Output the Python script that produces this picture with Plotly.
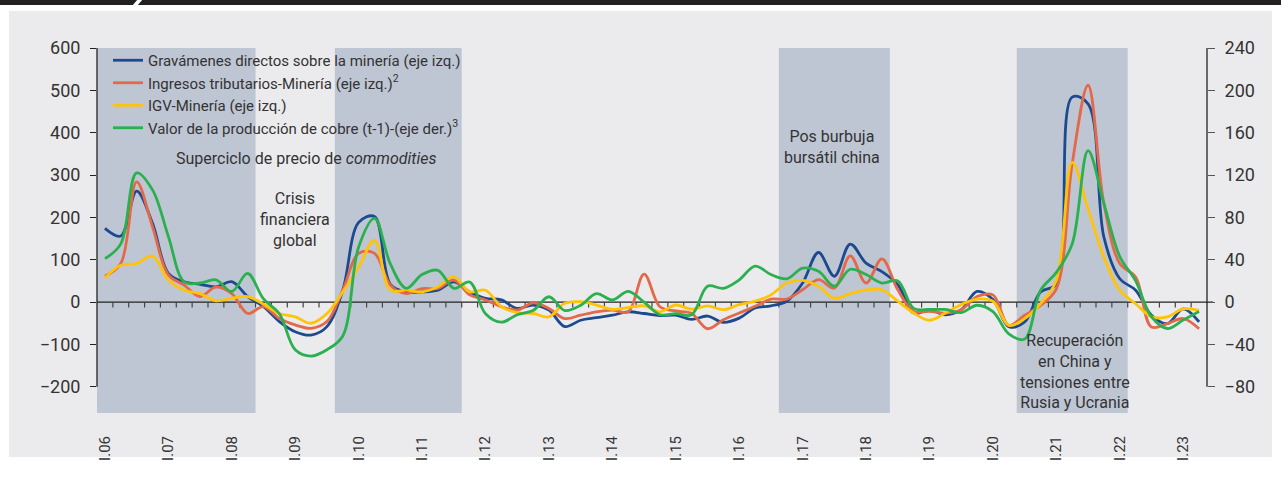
import plotly.graph_objects as go

# ---------------- data (quarterly, I.06 .. II.23) ----------------
years = ["06", "07", "08", "09", "10", "11", "12", "13", "14", "15", "16", "17",
         "18", "19", "20", "21", "22", "23"]
tick_labels = ["I." + y for y in years]

gravamenes = [174, 156, 262, 186, 68, 48, 42, 36, 48, 13, -11, -46, -70, -78, -58, 28,
              188, 202, 42, 24, 24, 28, 48, 24, 9, 5, -15, -7, -19, -58, -43, -37,
              -31, -23, -27, -32, -31, -41, -33, -48, -38, -14, -9, 2, 45, 117, 61, 137,
              92, 72, 41, -26, -18, -30, -18, 25, 6, -58, -47, 24, 43, 484, 468, 153,
              55, 28, -31, -51, -16, -47]
ingresos = [61, 91, 284, 178, 64, 40, 13, 36, 20, -27, -11, -39, -54, -62, -46, 28,
            115, 115, 40, 20, 32, 32, 52, 17, 5, -11, -19, -2, -15, -39, -31, -23,
            -19, -23, 66, -11, -21, -27, -63, -42, -26, -10, 7, 7, 29, 53, 33, 109,
            45, 102, 29, -22, -22, -26, -18, 13, 17, -55, -31, -8, 31, 327, 512, 232,
            91, 59, -59, -51, -39, -63]
igv = [57, 87, 91, 109, 52, 28, 20, 3, 9, 13, -5, -27, -35, -50, -27, 24,
       83, 146, 28, 28, 24, 36, 60, 24, 28, -11, -25, -27, -35, -3, 1, -7,
       -17, -13, -9, -23, -7, -17, -9, -18, -6, 2, 17, 45, 51, 37, 9, 20,
       29, 29, 2, -26, -43, -26, -6, 7, 2, -55, -39, -4, 51, 330, 220, 106,
       28, -4, -35, -35, -16, -20]
cobre = [41, 55, 122, 106, 62, 19, 18, 21, 10, 27, 3, -11, -45, -51, -45, -32,
         52, 79, 36, 13, 26, 30, 13, 19, -11, -19, -12, -8, 5, -8, -3, 8,
         2, 10, 0, -12, -11, -12, 15, 13, 21, 34, 26, 22, 32, 29, 15, 31,
         26, 18, 20, -6, -7, -7, -10, -3, -9, -30, -35, 11, 28, 55, 143, 93,
         43, 20, -14, -25, -17, -9]

series_names = ["Gravámenes directos sobre la minería (eje izq.)",
                "Ingresos tributarios-Minería (eje izq.)<sup>2</sup>",
                "IGV-Minería (eje izq.)",
                "Valor de la producción de cobre (t-1)-(eje der.)<sup>3</sup>"]
colors = ["#1c4a8e", "#e4684a", "#ffc408", "#2bb04f"]

# shaded periods (first and last quarter index)
periods = [(0, 9), (15, 22), (43, 49), (58, 64)]

left_ticks = [-200, -100, 0, 100, 200, 300, 400, 500, 600]
right_ticks = [-80, -40, 0, 40, 80, 120, 160, 200, 240]

n = len(gravamenes)
x = list(range(n))

FONT = "Roboto, sans-serif"
TXT = "#333333"
BG = "#ebebed"
SHADE = "#bfc6d3"

fig = go.Figure()
for vals, name, col, ax in zip([gravamenes, ingresos, igv, cobre], series_names, colors,
                               ["y", "y", "y", "y2"]):
    fig.add_trace(go.Scatter(x=x, y=vals, name=name, yaxis=ax, mode="lines",
                             line=dict(color=col, width=2.8, shape="spline", smoothing=1.0)))

shapes = []
W, H = 1281, 485
L, R, T, B = 97, 1207, 48, 413
def px(xp):
    return (xp - L) / (R - L)
def py(yp):
    return (B - yp) / (B - T)

shapes.append(dict(type="rect", xref="paper", yref="paper", x0=px(9), x1=px(1272),
                   y0=py(457), y1=py(11), fillcolor=BG, line=dict(width=0), layer="below"))
shapes.append(dict(type="rect", xref="paper", yref="paper", x0=px(0), x1=px(1281),
                   y0=py(5), y1=py(-2), fillcolor="#231f20", line=dict(width=0), layer="above"))
shapes.append(dict(type="path", xref="paper", yref="paper",
                   path=f"M {px(132)} {py(6)} L {px(137)} {py(6)} L {px(143)} {py(-1)} L {px(138)} {py(-1)} Z",
                   fillcolor="white", line=dict(width=0), layer="above"))

for a, b in periods:
    shapes.append(dict(type="rect", xref="x", yref="paper", x0=a - 0.5, x1=b + 0.5,
                       y0=0, y1=1, fillcolor=SHADE, line=dict(width=0), layer="below"))
# zero line with quarterly ticks
shapes.append(dict(type="line", xref="paper", yref="y", x0=0, x1=px(1213), y0=0, y1=0,
                   line=dict(color="#222222", width=1.3), layer="below"))
for i in range(n - 1):
    shapes.append(dict(type="line", xref="x", yref="y", x0=i + 0.5, x1=i + 0.5, y0=0, y1=-13,
                       line=dict(color="#444444", width=1.2), layer="below"))
# axis lines
shapes.append(dict(type="line", xref="paper", yref="y", x0=0, x1=0,
                   y0=left_ticks[0], y1=left_ticks[-1], line=dict(color="#222222", width=1.3)))
shapes.append(dict(type="line", xref="paper", yref="y2", x0=1, x1=1,
                   y0=right_ticks[0], y1=right_ticks[-1], line=dict(color="#222222", width=1.3)))

ann_font = dict(family=FONT, size=16, color=TXT)
annotations = [
    dict(x=12.67, y=338, xref="x", yref="y", text="Superciclo de precio de <i>commodities</i>",
         showarrow=False, font=ann_font),
    dict(x=11.98, y=196, xref="x", yref="y", text="Crisis<br>financiera<br>global",
         showarrow=False, font=ann_font),
    dict(x=45.84, y=366, xref="x", yref="y", text="Pos burbuja<br>bursátil china",
         showarrow=False, font=ann_font),
    dict(x=61.2, y=-165, xref="x", yref="y",
         text="Recuperación<br>en China y<br>tensiones entre<br>Rusia y Ucrania",
         showarrow=False, font=ann_font),
]

fig.update_layout(
    width=W, height=H,
    margin=dict(l=L, r=W - R, t=T, b=H - B),
    paper_bgcolor="white", plot_bgcolor=BG,
    font=dict(family=FONT, size=16, color=TXT),
    showlegend=True,
    legend=dict(x=px(108), y=py(44), xanchor="left", yanchor="top",
                bgcolor="rgba(0,0,0,0)", font=dict(family=FONT, size=15, color=TXT),
                tracegroupgap=0, itemwidth=30),
    xaxis=dict(range=[-0.5, n - 0.5], tickvals=list(range(0, n, 4)), ticktext=tick_labels,
               tickangle=-90, showgrid=False, zeroline=False, showline=False, ticks="",
               ticklabelstandoff=19, tickfont=dict(family=FONT, size=15, color=TXT)),
    yaxis=dict(range=[-262, 600], tickvals=left_ticks, showgrid=False, zeroline=False,
               showline=False, ticks="outside", ticklen=6, tickcolor="#222222",
               tickfont=dict(family=FONT, size=18, color=TXT), ticklabelstandoff=6),
    yaxis2=dict(range=[-262 / 2.5, 240], tickvals=right_ticks, overlaying="y", side="right",
                showgrid=False, zeroline=False, showline=False, ticks="outside", ticklen=7,
                tickcolor="#555555", tickfont=dict(family=FONT, size=18, color=TXT),
                ticklabelstandoff=6),
    shapes=shapes,
    annotations=annotations,
)

fig.write_html("out.html", config={"displayModeBar": False},
               post_script="document.body.style.margin='0px';")
